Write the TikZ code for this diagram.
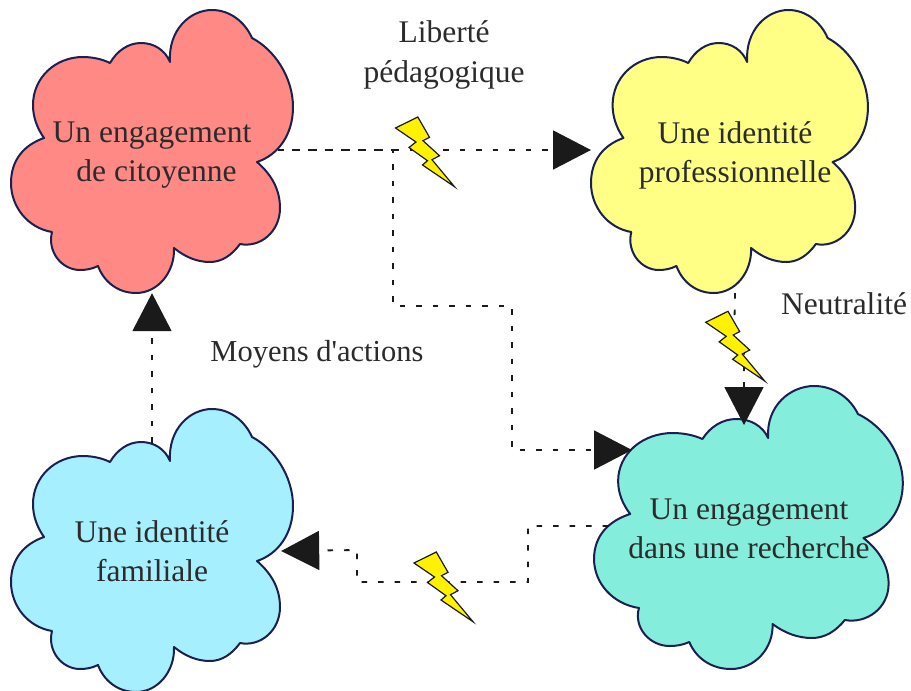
\documentclass[tikz,border=0pt]{standalone}
\usepackage{fontspec}
\setmainfont{Liberation Serif}
\usetikzlibrary{arrows.meta}
\definecolor{rouge}{HTML}{FF8A85}
\definecolor{jaune}{HTML}{FFFF85}
\definecolor{turquoise}{HTML}{85EDDC}
\definecolor{bleuciel}{HTML}{A6EFFF}
\definecolor{contour}{HTML}{1A2050}
\definecolor{encre}{HTML}{2B2B2B}
\definecolor{noirpointe}{HTML}{1A1A1A}
\newcommand{\formenuage}{(170,62) .. controls (168,30) and (190,10) .. (212,10) .. controls (230,10) and (245,22) .. (252,38)
  .. controls (275,50) and (293,78) .. (293,107) .. controls (293,135) and (278,155) .. (257,162)
  .. controls (272,175) and (280,190) .. (280,208) .. controls (280,232) and (260,248) .. (240,244)
  .. controls (232,255) and (222,262) .. (210,262) .. controls (197,262) and (185,257) .. (174,248)
  .. controls (175,272) and (158,293) .. (136,293) .. controls (118,293) and (104,282) .. (98,266)
  .. controls (92,269) and (86,270) .. (80,270) .. controls (62,270) and (47,252) .. (52,232)
  .. controls (28,228) and (11,207) .. (11,183) .. controls (11,160) and (24,145) .. (44,138)
  .. controls (37,128) and (33,117) .. (33,105) .. controls (33,78) and (55,57) .. (83,57) .. controls (92,57) and (102,59) .. (110,63)
  .. controls (117,51) and (128,43) .. (141,43) .. controls (154,43) and (165,50) .. (170,62) -- cycle}
\newcommand{\formeeclair}{(0,0) -- (22.3,-11) -- (34,9.3) -- (27.5,12.7) -- (44,27.7) -- (36.5,31.7) -- (59,58.7) -- (27,37) -- (32,32.7) -- (13.5,19.5) -- (20.5,14) -- cycle}
\tikzset{
  nuage/.style={draw=contour, line width=2pt, line join=round},
  eclair/.style={draw=noirpointe, fill=yellow, line width=1.2pt, line join=miter},
  lien/.style={draw=noirpointe, line width=1.8pt, dash pattern=on 5.5pt off 11pt},
  fleche/.style={-{Triangle[length=38pt,width=39pt,fill=noirpointe]}},
  texte/.style={align=center, text=encre, inner sep=0pt, font=\fontsize{31.5}{39.5}\selectfont},
}
\begin{document}
\begin{tikzpicture}[x=1pt,y=-1pt]
  \useasboundingbox (0,0) rectangle (911,691);

  \draw[nuage, fill=rouge] \formenuage;
  \draw[nuage, fill=jaune, shift={(580.2,0)}, xscale=0.982] \formenuage;
  \draw[nuage, fill=turquoise, shift={(582,376)}, xscale=1.095] \formenuage;
  \draw[nuage, fill=bleuciel, shift={(0,399)}] \formenuage;

  \node[texte, minimum width=252pt, minimum height=286pt, text height=69pt] (citoyenne) at (152,150) {Un engagement\\[-0.5pt]\hspace*{9pt}de citoyenne};
  \node[texte, minimum width=284pt, minimum height=286pt, text height=72pt] (professionnelle) at (735,150) {Une identité\\professionnelle};
  \node[texte, minimum width=282pt, minimum height=206pt] (recherche) at (749,529) {Un engagement\\dans une recherche};
  \node[texte, minimum width=258pt, minimum height=216pt] (familiale) at (152,551) {Une identité\\familiale};

  \node[texte] (liberte) at (444,55) {Liberté\\pédagogique};
  \node[texte] (neutralite) at (844,304) {Neutralité};
  \node[texte, font=\fontsize{30.5}{39.5}\selectfont] (moyens) at (317,354.5) {Moyens d\textquotesingle actions};

  \coordinate (coude) at (393,150);
  \coordinate (entreerecherche) at (632,450);
  \coordinate (sortierecherche) at (608,526);
  \coordinate (pointerecherche) at (744,425);

  \draw[lien, fleche] (citoyenne.east) -- (591,150);
  \draw[lien, fleche, dash phase=3pt] (citoyenne.east) -- (coude) -- (393,306) -- (512,306) -- (512,450) -- (entreerecherche);
  \draw[lien, fleche] (professionnelle.south) -- (734,345) -- (744,345) -- (pointerecherche);
  \draw[lien, fleche] (sortierecherche) -- (528,526) -- (528,582) -- (357,582) -- (357,550) -- (familiale.east);
  \draw[lien, fleche] (familiale.north) -- (citoyenne.south);

  \draw[eclair, shift={(395.5,128)}] \formeeclair;
  \draw[eclair, shift={(705.7,322.3)}] \formeeclair;
  \draw[eclair, shift={(414,563)}] \formeeclair;
\end{tikzpicture}
\end{document}
